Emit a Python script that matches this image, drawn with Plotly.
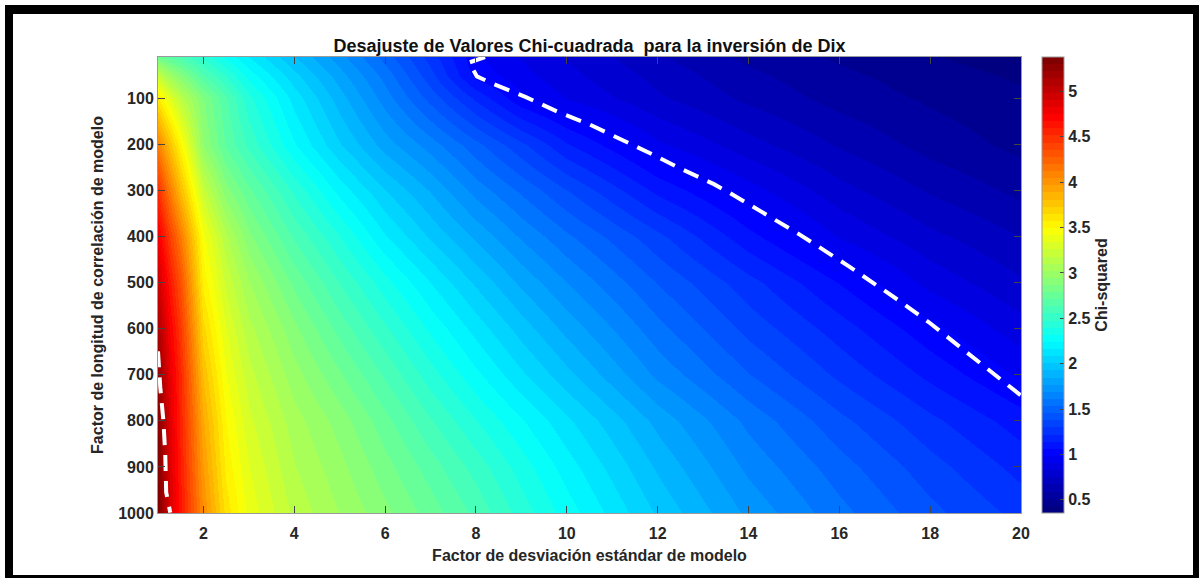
import plotly.graph_objects as go

# ---- data ----
x_vals = [1, 1.25, 1.5, 2, 2.5, 3, 4, 5, 6, 7, 8, 9, 10, 12, 14, 16, 18, 20]
y_vals = [10, 50, 100, 200, 300, 400, 500, 600, 700, 800, 900, 1000]

row_10 = [2.80, 2.70, 2.61, 2.46, 2.30, 2.16, 1.93, 1.72, 1.50, 1.26, 1.00, 0.90, 0.82, 0.68, 0.57, 0.50, 0.44, 0.39]
row_50 = [3.20, 3.02, 2.88, 2.64, 2.46, 2.28, 2.03, 1.80, 1.58, 1.32, 1.03, 0.93, 0.85, 0.72, 0.61, 0.53, 0.47, 0.42]
row_100 = [3.58, 3.35, 3.15, 2.87, 2.64, 2.42, 2.13, 1.88, 1.65, 1.42, 1.20, 1.00, 0.90, 0.76, 0.65, 0.56, 0.50, 0.45]
row_200 = [4.10, 3.80, 3.50, 2.95, 2.70, 2.53, 2.25, 2.01, 1.81, 1.65, 1.48, 1.32, 1.15, 0.92, 0.78, 0.66, 0.56, 0.49]
row_300 = [4.50, 4.15, 3.80, 3.22, 2.90, 2.73, 2.46, 2.21, 2.01, 1.84, 1.66, 1.52, 1.38, 1.12, 0.94, 0.78, 0.66, 0.57]
row_400 = [4.78, 4.45, 4.12, 3.45, 3.12, 2.89, 2.62, 2.40, 2.17, 1.99, 1.83, 1.68, 1.55, 1.32, 1.09, 0.90, 0.77, 0.67]
row_500 = [4.97, 4.64, 4.32, 3.55, 3.24, 3.03, 2.77, 2.55, 2.35, 2.16, 1.99, 1.83, 1.69, 1.45, 1.25, 1.06, 0.88, 0.76]
row_600 = [5.12, 4.77, 4.44, 3.68, 3.34, 3.13, 2.89, 2.68, 2.49, 2.30, 2.13, 1.97, 1.82, 1.56, 1.35, 1.18, 1.01, 0.86]
row_700 = [5.23, 4.86, 4.52, 3.80, 3.42, 3.21, 2.98, 2.80, 2.62, 2.43, 2.26, 2.10, 1.95, 1.67, 1.46, 1.28, 1.12, 0.97]
row_800 = [5.29, 4.89, 4.55, 3.90, 3.50, 3.28, 3.06, 2.91, 2.74, 2.56, 2.40, 2.25, 2.10, 1.82, 1.59, 1.40, 1.24, 1.10]
row_900 = [5.33, 4.91, 4.58, 3.97, 3.55, 3.34, 3.11, 2.97, 2.82, 2.67, 2.52, 2.36, 2.20, 1.91, 1.67, 1.49, 1.33, 1.19]
row_1000 = [5.36, 4.93, 4.62, 4.04, 3.62, 3.39, 3.16, 3.02, 2.89, 2.75, 2.61, 2.44, 2.28, 1.99, 1.75, 1.56, 1.40, 1.27]

chi_rows = [row_10, row_50, row_100, row_200, row_300, row_400, row_500,
            row_600, row_700, row_800, row_900, row_1000]

# dashed contour lines
right_line_x = [8.2, 7.85, 8.02, 8.39, 9.1, 9.78, 10.49, 11.19, 11.88, 12.54, 13.24, 13.57, 14.3, 15.12, 16.22, 17.33, 18.0, 18.61, 19.25, 20.0]
right_line_y = [10, 22, 52, 69, 97, 128, 156, 188, 221, 254, 286, 304, 347, 395, 465, 540, 588, 636, 684, 745]
left_line_x = [1.0, 1.05, 1.12, 1.16, 1.18, 1.27]
left_line_y = [649, 727, 801, 873, 955, 999]

x_ticks = [2, 4, 6, 8, 10, 12, 14, 16, 18, 20]
y_ticks = [100, 200, 300, 400, 500, 600, 700, 800, 900, 1000]
cbar_ticks = [0.5, 1, 1.5, 2, 2.5, 3, 3.5, 4, 4.5, 5]
z_min, z_max = 0.355, 5.38

# ---- MATLAB-like jet colormap (64 levels) ----
def jet(t):
    def c(v):
        return max(0.0, min(1.0, v))
    r = c(1.5 - abs(4 * t - 3))
    g = c(1.5 - abs(4 * t - 2))
    b = c(1.5 - abs(4 * t - 1))
    return f"rgb({round(r*255)},{round(g*255)},{round(b*255)})"

N = 64
colorscale = []
for i in range(N):
    col = jet(i / (N - 1))
    colorscale.append([i / N, col])
    colorscale.append([(i + 1) / N, col])

FONT = "Liberation Sans, Arial, Helvetica, sans-serif"
TXT = "#262626"
FS = 16

fig = go.Figure()
fig.add_trace(go.Heatmap(
    x=x_vals, y=y_vals, z=chi_rows,
    zsmooth="best", colorscale=colorscale, zmin=z_min, zmax=z_max,
    colorbar=dict(
        x=(1042 - 158) / 863, xanchor="left", xpad=0, ypad=0,
        y=0.5, yanchor="middle", len=1, lenmode="fraction",
        thickness=22, outlinecolor="#9a9a9a", outlinewidth=1,
        tickvals=cbar_ticks, ticks="inside", ticklen=4, tickcolor="#444",
        ticklabelposition="outside",
        tickfont=dict(family=FONT, size=FS, color=TXT, weight="bold"),
        title=dict(text="<b>Chi-squared</b>", side="right",
                   font=dict(family=FONT, size=FS, color=TXT)),
    ),
    showscale=True,
))

for lx, ly in [(right_line_x, right_line_y), (left_line_x, left_line_y)]:
    fig.add_trace(go.Scatter(x=lx, y=ly, mode="lines",
                             line=dict(color="white", width=4, dash="16px,10px"),
                             showlegend=False, hoverinfo="skip"))

fig.update_layout(
    width=1199, height=578, autosize=False,
    margin=dict(l=158, r=178, t=57, b=65),
    paper_bgcolor="white", plot_bgcolor="white",
    showlegend=False,
    title=dict(text="<b>Desajuste de Valores Chi-cuadrada  para la inversión de Dix</b>",
               x=(158 + 1021) / 2 / 1199, xanchor="center",
               y=1 - 46 / 578, yanchor="middle", yref="container",
               font=dict(family=FONT, size=18, color="#111")),
    xaxis=dict(range=[1, 20], tickvals=x_ticks, ticks="inside", ticklen=7,
               tickcolor="#444", showline=True, linecolor="#9a9a9a", mirror="allticks",
               showgrid=False, zeroline=False, ticklabelstandoff=6,
               tickfont=dict(family=FONT, size=FS, color=TXT, weight="bold"),
               title=dict(text="<b>Factor de desviación estándar de modelo</b>",
                          font=dict(family=FONT, size=FS, color=TXT), standoff=8)),
    yaxis=dict(range=[1000, 10], tickvals=y_ticks, ticks="inside", ticklen=7,
               tickcolor="#444", showline=True, linecolor="#9a9a9a", mirror="allticks",
               showgrid=False, zeroline=False,
               tickfont=dict(family=FONT, size=FS, color=TXT, weight="bold"),
               title=dict(text="<b>Factor de longitud de correlación de modelo</b>",
                          font=dict(family=FONT, size=FS, color=TXT), standoff=10)),
)

# black picture frame
def px_x(p):
    return (p - 158) / 863

def px_y(p):
    return (513 - p) / 456

for (x0, x1, y0, y1) in [(5, 13, 5, 578), (5, 1199, 5, 14), (1193, 1199, 5, 578), (5, 1199, 575, 578)]:
    fig.add_shape(type="rect", xref="paper", yref="paper",
                  x0=px_x(x0), x1=px_x(x1), y0=px_y(y1), y1=px_y(y0),
                  fillcolor="black", line=dict(width=0), layer="above")

fig.write_html("out.html", config={"displayModeBar": False},
               post_script="document.body.style.margin='0';document.body.style.overflow='hidden';")
